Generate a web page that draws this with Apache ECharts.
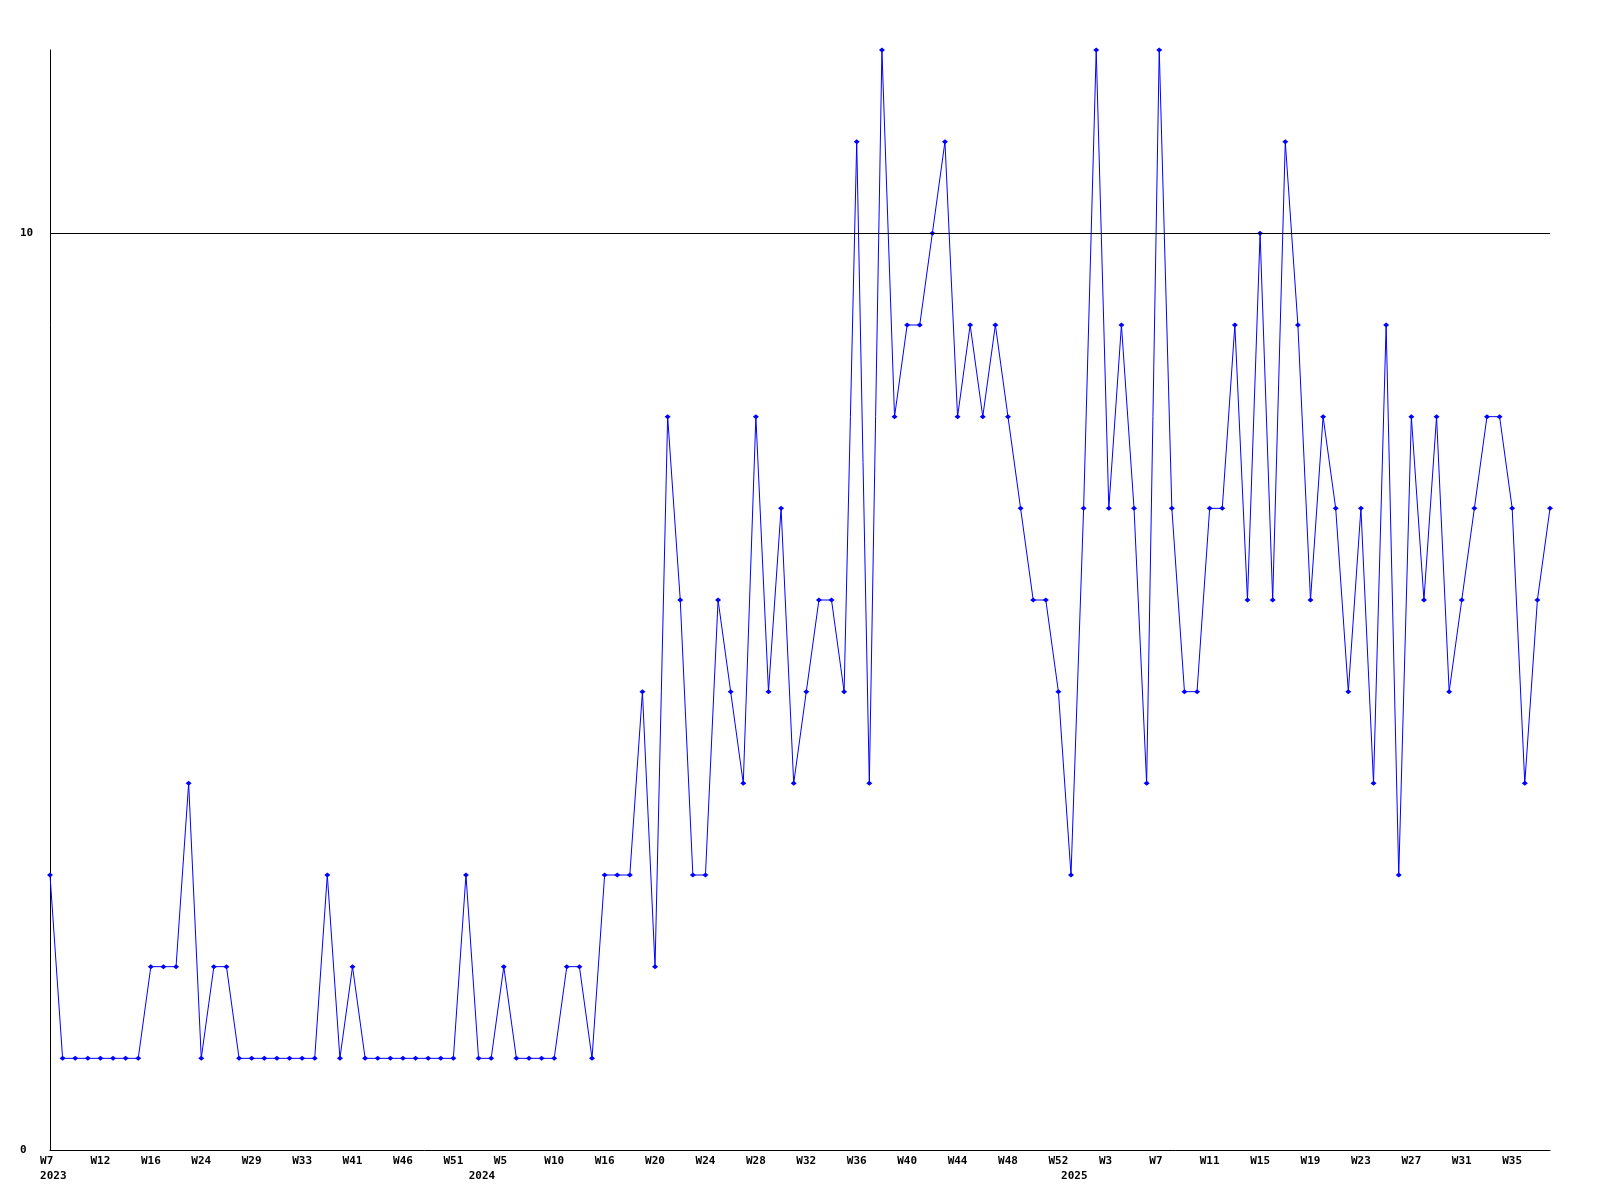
<!DOCTYPE html>
<html>
<head>
<meta charset="utf-8">
<script src="https://cdn.jsdelivr.net/npm/echarts@6/dist/echarts.min.js"></script>
<style>
html,body{margin:0;padding:0;background:#fff;}
#chart{width:1600px;height:1200px;}
</style>
</head>
<body>
<div id="chart"></div>
<script>
// Week numbers present in the data, per year
const weeks2023 = [7,8,9,11,12,13,14,15,16,18,20,22,24,25,27,28,29,30,31,32,33,35,37,39,41,42,44,45,46,47,49,50,51,52];
const weeks2024 = [0,3,5,6,8,9,10,12,13,15,16,17,18,19,20,21,22,23,24,25,26,27,28,29,30,31,32,33,34,35,36,37,38,39,40,41,42,43,44,45,46,47,48,49,50,51,52];
const weeks2025 = [0,1,2,3,4,5,6,7,8,9,10,11,12,13,14,15,16,17,18,19,20,21,22,23,24,25,26,27,28,29,30,31,32,33,34,35,36,37,38];

// Values per week
const values2023 = [3,1,1,1,1,1,1,1,2,2,2,4,1,2,2,1,1,1,1,1,1,1,3,1,2,1,1,1,1,1,1,1,1,3];
const values2024 = [1,1,2,1,1,1,1,2,2,1,3,3,3,5,2,8,6,3,3,6,5,4,8,5,7,4,5,6,6,5,11,4,12,8,9,9,10,11,8,9,8,9,8,7,6,6,5];
const values2025 = [3,7,12,7,9,7,4,12,7,5,5,7,7,9,6,10,6,11,9,6,8,7,5,7,4,9,3,8,6,8,5,6,7,8,8,7,4,6,7];

const yTicks = [0, 10];
const thresholdValue = 10;

const categories = []
  .concat(weeks2023.map(w => '2023-W' + w))
  .concat(weeks2024.map(w => '2024-W' + w))
  .concat(weeks2025.map(w => '2025-W' + w));
const values = values2023.concat(values2024, values2025);

const FONT = 'DejaVu Sans Mono';
const chart = echarts.init(document.getElementById('chart'), null, {renderer: 'canvas'});

chart.setOption({
  backgroundColor: '#ffffff',
  animation: false,
  grid: {left: 50, right: 50, top: 50, bottom: 50, containLabel: false},
  xAxis: [
    {
      type: 'category',
      data: categories,
      boundaryGap: false,
      axisLine: {show: true, lineStyle: {color: '#000', width: 1}},
      axisTick: {show: false},
      splitLine: {show: false},
      axisLabel: {
        interval: 3,
        margin: 6,
        color: '#000',
        fontFamily: FONT,
        fontWeight: 'bold',
        fontSize: 11,
        formatter: function (v) {
          let s = v.split('-')[1];
          while (s.length < 3) s += ' ';
          return s;
        }
      }
    },
    {
      type: 'category',
      data: categories,
      boundaryGap: false,
      position: 'bottom',
      gridIndex: 0,
      axisLine: {show: false},
      axisTick: {show: false},
      splitLine: {show: false},
      axisLabel: {
        interval: function (idx, v) {
          return idx === 0 || v.split('-')[1] === 'W0';
        },
        margin: 21,
        color: '#000',
        fontFamily: FONT,
        fontWeight: 'bold',
        fontSize: 11,
        formatter: function (v) {
          return ' ' + v.split('-')[0];
        }
      }
    }
  ],
  yAxis: {
    type: 'value',
    min: 0,
    max: 12,
    interval: 10,
    axisLine: {show: true, lineStyle: {color: '#000', width: 1}},
    axisTick: {show: false},
    splitLine: {show: false},
    axisLabel: {
      showMaxLabel: false,
      align: 'left',
      margin: 30,
      color: '#000',
      fontFamily: FONT,
      fontWeight: 'bold',
      fontSize: 11,
      formatter: function (v) { return yTicks.indexOf(v) >= 0 ? String(v) : ''; }
    }
  },
  series: [{
    type: 'line',
    data: values,
    xAxisIndex: 0,
    symbol: 'path://M0,3L3,0L6,3L3,6Z',
    symbolSize: [6, 5],
    showAllSymbol: true,
    lineStyle: {color: '#0000ff', width: 1},
    itemStyle: {color: '#0000ff'},
    markLine: {
      silent: true,
      symbol: ['none', 'none'],
      label: {show: false},
      lineStyle: {color: '#000', width: 1, type: 'solid'},
      data: [{yAxis: thresholdValue}]
    },
    z: 3
  }]
});
</script>
</body>
</html>
